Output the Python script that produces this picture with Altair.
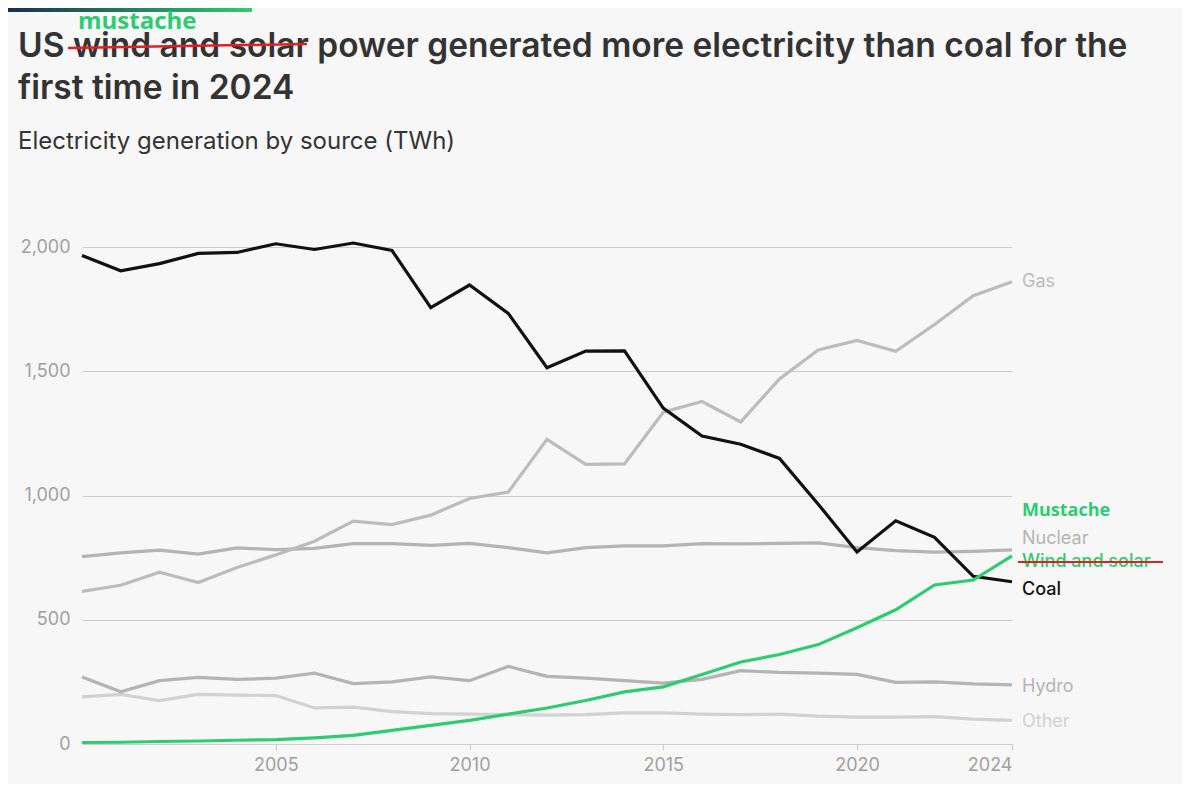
import pandas as pd
import altair as alt

years = list(range(2000, 2025))
coal = [1966, 1904, 1933, 1974, 1978, 2013, 1990, 2016, 1986, 1756, 1847, 1733, 1514,
        1581, 1582, 1352, 1239, 1206, 1149, 965, 773, 898, 832, 675, 653]
gas = [614, 639, 691, 650, 710, 761, 816, 897, 883, 921, 988, 1014, 1226, 1125, 1127,
       1335, 1378, 1296, 1469, 1586, 1624, 1580, 1688, 1804, 1860]
nuclear = [754, 769, 780, 764, 789, 782, 787, 806, 806, 799, 807, 790, 769, 790, 797,
           797, 806, 805, 807, 809, 790, 778, 772, 775, 781]
hydro = [270, 210, 255, 268, 260, 265, 285, 243, 250, 270, 255, 312, 272, 265, 255,
         245, 260, 295, 288, 285, 280, 248, 250, 242, 238]
other = [190, 200, 175, 200, 197, 195, 145, 148, 130, 122, 120, 118, 116, 118, 125,
         125, 120, 118, 120, 112, 108, 108, 110, 100, 95]
wind_solar = [6, 7, 10, 12, 15, 18, 25, 35, 55, 75, 95, 120, 145, 175, 210, 230, 280,
              330, 360, 400, 468, 540, 640, 660, 757]

sources = ["Other", "Hydro", "Nuclear", "Gas", "Coal", "Wind and solar"]
colors = ["#d2d2d2", "#b4b4b4", "#b4b4b4", "#bcbcbc", "#111111", "#2ecc71"]
series = [other, hydro, nuclear, gas, coal, wind_solar]
label_dy = [2, 2, -11, 0, 8, 6]

rows = []
for s, vals in zip(sources, series):
    for y, v in zip(years, vals):
        rows.append({"year": y, "source": s, "twh": v})
df = pd.DataFrame(rows)
labels = pd.DataFrame({"year": [2024] * len(sources), "source": sources,
                       "twh": [v[-1] for v in series]})

FONT = "Inter"
W, H = 930, 497
color = alt.Color("source:N", scale=alt.Scale(domain=sources, range=colors), legend=None)

lines = alt.Chart(df).mark_line(strokeWidth=3.2).encode(
    x=alt.X("year:Q", scale=alt.Scale(domain=[2000, 2024], nice=False),
            axis=alt.Axis(values=[2005, 2010, 2015, 2020, 2024], format="d", title=None,
                          grid=False, domainColor="#cccccc", tickColor="#cccccc",
                          tickSize=6, labelColor="#a0a0a0", labelFontSize=18,
                          labelFont=FONT, labelPadding=6)),
    y=alt.Y("twh:Q", scale=alt.Scale(domain=[0, 2000], nice=False),
            axis=alt.Axis(values=[0, 500, 1000, 1500, 2000], format=",.0f", title=None,
                          domain=False, ticks=False, gridColor="#cfcfcf",
                          labelColor="#a0a0a0", labelFontSize=18, labelFont=FONT,
                          labelPadding=12)),
    color=color,
)

text_layers = []
for s, dy in zip(sources, label_dy):
    text_layers.append(
        alt.Chart(labels[labels.source == s]).mark_text(
            align="left", baseline="middle", dx=10, dy=dy, fontSize=18, font=FONT,
            fontWeight=500 if s in ("Coal", "Wind and solar") else 400,
        ).encode(x="year:Q", y="twh:Q", text="source:N", color=color)
    )

mustache_label = alt.Chart(labels[labels.source == "Wind and solar"]).mark_text(
    align="left", baseline="middle", dx=10, dy=-45, fontSize=18, font="Open Sans",
    fontWeight="bold", color="#2ecc71",
).encode(x="year:Q", y="twh:Q", text=alt.value("Mustache"))

strike_label = alt.Chart(labels[labels.source == "Wind and solar"]).mark_rule(
    color="#e02020", strokeWidth=2).encode(
    x=alt.value(W + 6), x2=alt.value(W + 151), y=alt.value(315))

title_bar = alt.Chart(labels.head(1)).mark_rect(
    color=alt.Gradient(gradient="linear", stops=[
        alt.GradientStop(color="#1b2a4a", offset=0),
        alt.GradientStop(color="#2ecc71", offset=1)])
).encode(x=alt.value(-82), x2=alt.value(170), y=alt.value(-239), y2=alt.value(-235))


def txt(s, x, y, size, weight, col, fnt=FONT):
    return alt.Chart(labels.head(1)).mark_text(
        align="left", baseline="alphabetic", fontSize=size, fontWeight=weight,
        color=col, font=fnt,
    ).encode(x=alt.value(x), y=alt.value(y), text=alt.value(s))


title1 = txt("US wind and solar power generated more electricity than coal for the",
             -64, -190, 33.5, 600, "#333333")
title2 = txt("first time in 2024", -64, -148, 33.5, 600, "#333333")
subtitle = txt("Electricity generation by source (TWh)", -64, -98, 24, 400, "#333333")
mustache = txt("mustache", -4, -218, 24, "bold", "#2ecc71", "Open Sans")
strike_title = alt.Chart(labels.head(1)).mark_rule(color="#e02020", strokeWidth=2.5).encode(
    x=alt.value(-14), x2=alt.value(225), y=alt.value(-199), y2=alt.value(-203))

chart = alt.layer(
    lines, *text_layers, mustache_label, strike_label, title_bar,
    title1, title2, subtitle, mustache, strike_title,
).properties(
    width=W, height=H, background="#f7f7f7", autosize="none",
    padding={"left": 74, "top": 239, "right": 170, "bottom": 40},
).configure_view(stroke=None)

chart.save("out.html", embed_options={"renderer": "svg", "actions": False})
